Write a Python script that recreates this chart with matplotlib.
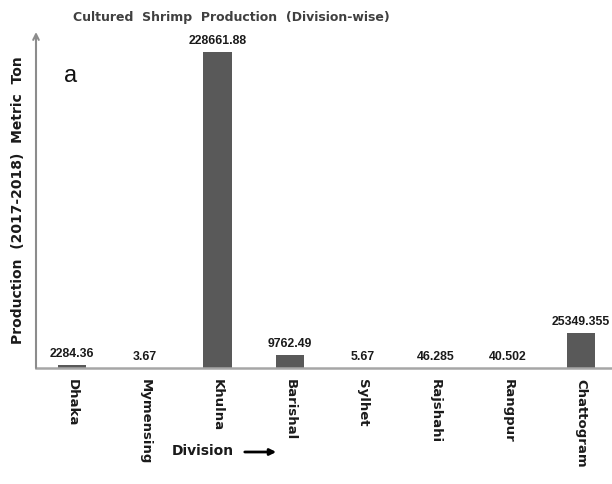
import matplotlib.pyplot as plt

# data
divisions = ["Dhaka", "Mymensing", "Khulna", "Barishal", "Sylhet",
             "Rajshahi", "Rangpur", "Chattogram"]
production = [2284.36, 3.67, 228661.88, 9762.49, 5.67, 46.285, 40.502, 25349.355]
value_labels = ["2284.36", "3.67", "228661.88", "9762.49", "5.67",
                "46.285", "40.502", "25349.355"]

plt.rcParams['font.family'] = ['Liberation Sans', 'DejaVu Sans']
wide = ['DejaVu Sans']

fig = plt.figure(figsize=(6.12, 4.84), dpi=100)
ax = fig.add_axes([36 / 612, 116 / 484, 576 / 612, 336 / 484])

x = range(len(divisions))
ax.bar(x, production, width=0.39, color="#595959")

for i, v in enumerate(production):
    ax.text(i, v + 3500, value_labels[i], ha="center", va="bottom",
            fontsize=8.8, fontweight="bold", color="#1a1a1a")

ax.set_xlim(-0.5, 7.43)
ax.set_ylim(0, 243000)

ax.set_xticks(list(x))
ax.set_xticklabels(divisions, rotation=-90, fontsize=9.5, fontweight="bold",
                   color="#1a1a1a", family=wide)
ax.tick_params(axis="x", length=0, pad=8)
ax.set_yticks([])

for s in ["top", "right", "left"]:
    ax.spines[s].set_visible(False)
ax.spines["bottom"].set_color("#a6a6a6")
ax.spines["bottom"].set_linewidth(1.8)

# y axis with arrow head
ax.annotate("", xy=(0, 1.0), xytext=(0, 0), xycoords="axes fraction",
            arrowprops=dict(arrowstyle="->", color="#8c8c8c", lw=1.5,
                            shrinkA=0, shrinkB=0))

fig.text(231 / 612, 1 - 18 / 484, "Cultured  Shrimp  Production  (Division-wise)",
         ha="center", va="center", fontsize=9, fontweight="bold", color="#404040",
         family=wide)
fig.text(18 / 612, 1 - 200 / 484, "Production  (2017-2018)  Metric  Ton",
         rotation=90, ha="center", va="center", fontsize=10, fontweight="bold",
         color="#1a1a1a", family=wide)
fig.text(71 / 612, 1 - 76 / 484, "a", ha="center", va="center", fontsize=17,
         color="#111111")
fig.text(203 / 612, 1 - 451 / 484, "Division", ha="center", va="center",
         fontsize=10, fontweight="bold", color="#1a1a1a", family=wide)
fig.patches.append(plt.matplotlib.patches.FancyArrowPatch(
    (242 / 612, 1 - 452 / 484), (279 / 612, 1 - 452 / 484),
    transform=fig.transFigure, arrowstyle="-|>", mutation_scale=9,
    color="black", lw=2))

fig.savefig("out.png", dpi=100)
